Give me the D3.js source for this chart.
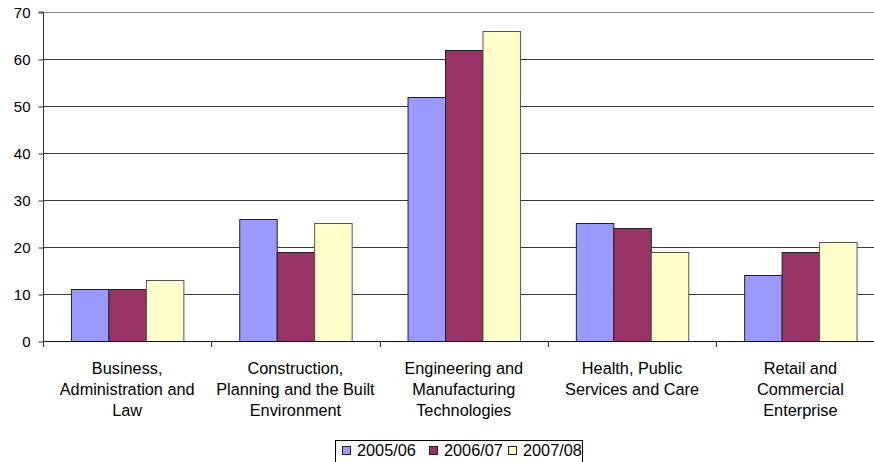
<!DOCTYPE html>
<html>
<head>
<meta charset="utf-8">
<script src="https://cdn.jsdelivr.net/npm/d3@7"></script>
<style>
  html, body { margin: 0; padding: 0; background: #fff; }
  svg { display: block; font-family: "Liberation Sans", Arial, sans-serif; }
</style>
</head>
<body>
<svg id="chart" width="874" height="462"></svg>
<script>
const categories = [
  ["Business,", "Administration and", "Law"],
  ["Construction,", "Planning and the Built", "Environment"],
  ["Engineering and", "Manufacturing", "Technologies"],
  ["Health, Public", "Services and Care"],
  ["Retail and", "Commercial", "Enterprise"]
];
const categoryKeys = ["Business", "Construction", "Engineering", "Health", "Retail"];
const seriesNames = ["2005/06", "2006/07", "2007/08"];
const values2005 = [11, 26, 52, 25, 14];
const values2006 = [11, 19, 62, 24, 19];
const values2007 = [13, 25, 66, 19, 21];
const yTicks = [0, 10, 20, 30, 40, 50, 60, 70];
const colors = ["#9999FF", "#993366", "#FFFFCC"];

const seriesValues = [values2005, values2006, values2007];
const svg = d3.select("#chart");

const plotLeft = 43, plotRight = 884.5, plotTop = 12, plotBottom = 341;

const x0 = d3.scaleBand().domain(categoryKeys).range([plotLeft, plotRight])
  .paddingInner(0.332).paddingOuter(0.166);
const x1 = d3.scaleBand().domain(seriesNames).range([0, x0.bandwidth()]);
const y = d3.scaleLinear().domain([0, 70]).range([plotBottom, plotTop]);

// gridlines
svg.append("g").selectAll("line").data(yTicks.filter(d => d > 0)).join("line")
  .attr("x1", plotLeft).attr("x2", plotRight)
  .attr("y1", d => Math.round(y(d)) + 0.5).attr("y2", d => Math.round(y(d)) + 0.5)
  .attr("stroke", d => d === 70 ? "#8a8a8a" : "#3a3a3a").attr("stroke-width", 1);

// bars
const groups = svg.append("g").selectAll("g").data(categoryKeys).join("g")
  .attr("transform", c => `translate(${x0(c)},0)`);
groups.selectAll("rect").data((c, i) => seriesNames.map((s, j) => ({ s, j, v: seriesValues[j][i] })))
  .join("rect")
  .attr("x", d => x1(d.s) + 0.5)
  .attr("y", d => Math.round(y(d.v)) + 0.5)
  .attr("width", x1.bandwidth())
  .attr("height", d => Math.round(y(0)) - Math.round(y(d.v)))
  .attr("fill", d => colors[d.j])
  .attr("stroke", d => d.j === 2 ? "#555" : "#222")
  .attr("stroke-width", 1);

// y axis
const yAxis = d3.axisLeft(y).tickValues(yTicks).tickSize(5).tickPadding(8).tickFormat(d3.format("d"));
const ya = svg.append("g").attr("transform", `translate(${plotLeft + 0.5},0.5)`).call(yAxis);
ya.select(".domain").attr("stroke", "#333").attr("d", `M-5,${plotTop - 0.5}H0V${plotBottom - 0.5}`);
ya.selectAll(".tick line").attr("stroke", "#333");
ya.selectAll(".tick text").attr("font-size", 15).attr("fill", "#000")
  .attr("font-family", "'Liberation Sans', Arial, sans-serif");

// x axis line and boundary ticks
const step = x0.step();
const boundaries = d3.range(categoryKeys.length + 1).map(i => i === categoryKeys.length
  ? x0(categoryKeys[i - 1]) + x0.bandwidth() + step * 0.166
  : x0(categoryKeys[i]) - step * 0.166);
svg.append("line").attr("x1", plotLeft).attr("x2", plotRight)
  .attr("y1", plotBottom + 0.5).attr("y2", plotBottom + 0.5).attr("stroke", "#111");
svg.append("g").selectAll("line").data(boundaries).join("line")
  .attr("x1", d => Math.round(d) + 0.5).attr("x2", d => Math.round(d) + 0.5)
  .attr("y1", plotBottom).attr("y2", plotBottom + 6).attr("stroke", "#333");

// category labels
const labels = svg.append("g").selectAll("text").data(categoryKeys).join("text")
  .attr("text-anchor", "middle").attr("font-size", 16.3).attr("fill", "#000")
  .attr("font-family", "'Liberation Sans', Arial, sans-serif");
labels.each(function (c, i) {
  const t = d3.select(this);
  categories[i].forEach((line, k) => {
    t.append("tspan").attr("x", x0(c) + x0.bandwidth() / 2).attr("y", 374 + k * 21).text(line);
  });
});

// legend
const lg = svg.append("g");
lg.append("rect").attr("x", 335.5).attr("y", 440.5).attr("width", 247).attr("height", 24)
  .attr("fill", "#fff").attr("stroke", "#000");
const itemX = [342, 429, 508];
seriesNames.forEach((s, j) => {
  lg.append("rect").attr("x", itemX[j] + 0.5).attr("y", 446.5).attr("width", 8).attr("height", 8)
    .attr("fill", colors[j]).attr("stroke", "#222");
  lg.append("text").attr("x", itemX[j] + 15).attr("y", 456).attr("font-size", 16.3)
    .attr("font-family", "'Liberation Sans', Arial, sans-serif")
    .attr("fill", "#000").text(s);
});
</script>
</body>
</html>
